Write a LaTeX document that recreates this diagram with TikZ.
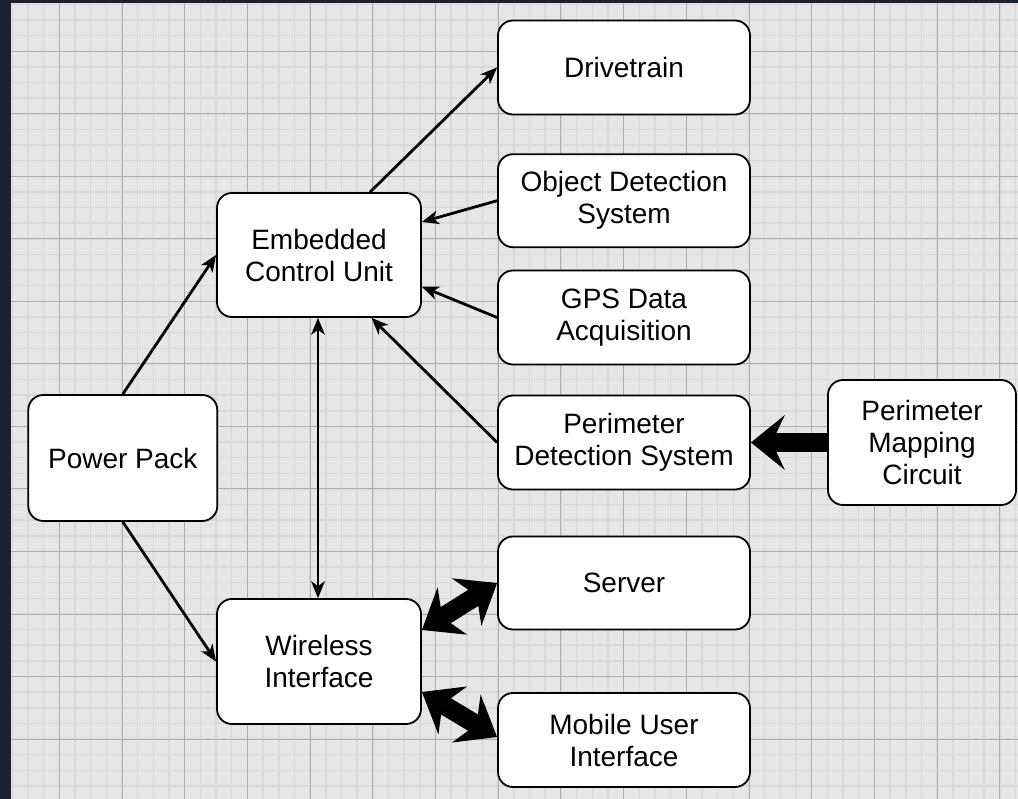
\documentclass[tikz,border=0pt]{standalone}
\usepackage{fontspec}
\setmainfont{Liberation Sans}
\usetikzlibrary{arrows.meta,calc}
\definecolor{bgc}{HTML}{E6E6E6}
\definecolor{minorc}{HTML}{D9D9D9}
\definecolor{majorc}{HTML}{AEAEAE}
\definecolor{framec}{HTML}{1B2030}
\begin{document}
\begin{tikzpicture}[x=1pt,y=-1pt,
  box/.style={draw=black, line width=1.8pt, fill=white, rounded corners=15pt,
    inner sep=0pt, align=center, font=\fontsize{28}{32}\selectfont},
  tipthin/.tip={Stealth[length=17pt,width=14pt,inset=5pt,line width=0pt]},
  tipfat/.tip={Stealth[length=36pt,width=56pt,inset=12pt,line width=0pt]},
  conn/.style={line width=2.8pt, -tipthin},
  connboth/.style={line width=2.8pt, tipthin-tipthin},
  fatboth/.style={line width=19pt, tipfat-tipfat},
  fat/.style={line width=19pt, -{Stealth[length=34pt,width=55pt,inset=13pt,line width=0pt]}}
]
\useasboundingbox (0,0) rectangle (1018,799);
% background grid
\fill[bgc] (0,0) rectangle (1018,799);
\foreach \k in {-3,...,61} \draw[minorc, line width=1.5pt] ({59.3+15.675*\k},0) -- ({59.3+15.675*\k},799);
\foreach \k in {-3,...,48} \draw[minorc, line width=1.5pt] (0,{51.3+15.63*\k}) -- (1018,{51.3+15.63*\k});
\foreach \k in {0,...,16} \draw[majorc, line width=0.9pt] ({59.3+62.7*\k},0) -- ({59.3+62.7*\k},799);
\foreach \k in {-1,...,12} \draw[majorc, line width=0.9pt] (0,{51.3+62.52*\k}) -- (1018,{51.3+62.52*\k});
\fill[framec] (0,0) rectangle (11,799);
\fill[framec] (0,0) rectangle (1018,3);

% nodes
\node[box, minimum width=252pt, minimum height=94pt] (drv) at (624,67.5) {Drivetrain};
\node[box, minimum width=252pt, minimum height=93pt] (ods) at (624,200.7) {Object Detection\\System};
\node[box, minimum width=252pt, minimum height=94pt] (gps) at (624,317.5) {GPS Data\\Acquisition};
\node[box, minimum width=252pt, minimum height=94pt] (pds) at (624,442.5) {Perimeter\\Detection System};
\node[box, minimum width=188pt, minimum height=125pt] (pmc) at (922,442.5) {Perimeter\\Mapping\\Circuit};
\node[box, minimum width=204pt, minimum height=124pt] (ecu) at (319,255) {Embedded\\Control Unit};
\node[box, minimum width=189pt, minimum height=126pt] (pp) at (122.8,458) {Power Pack};
\node[box, minimum width=204pt, minimum height=125pt] (wi) at (319,661.5) {Wireless\\Interface};
\node[box, minimum width=252pt, minimum height=93pt] (srv) at (624,583) {Server};
\node[box, minimum width=252pt, minimum height=94pt] (mob) at (624,740) {Mobile User\\Interface};

% connectors
\draw[conn] ($(ecu.north)+(51,0)$) -- (drv.west);
\draw[conn] (ods.west) -- ($(ecu.east)+(0,-33)$);
\draw[conn] (gps.west) -- ($(ecu.east)+(0,31.7)$);
\draw[conn] (pds.west) -- ($(ecu.south)+(52.5,0)$);
\draw[connboth] ($(ecu.south)+(-1,0)$) -- ($(wi.north)+(-1,0)$);
\draw[conn] (pp.north) -- (ecu.west);
\draw[conn] (pp.south) -- (wi.west);
\draw[fatboth] ($(wi.east)+(0,-31.5)$) -- (srv.west);
\draw[fatboth] ($(wi.east)+(0,30.5)$) -- ($(mob.west)+(0,-3)$);
\draw[fat] (pmc.west) -- (pds.east);
\end{tikzpicture}
\end{document}
